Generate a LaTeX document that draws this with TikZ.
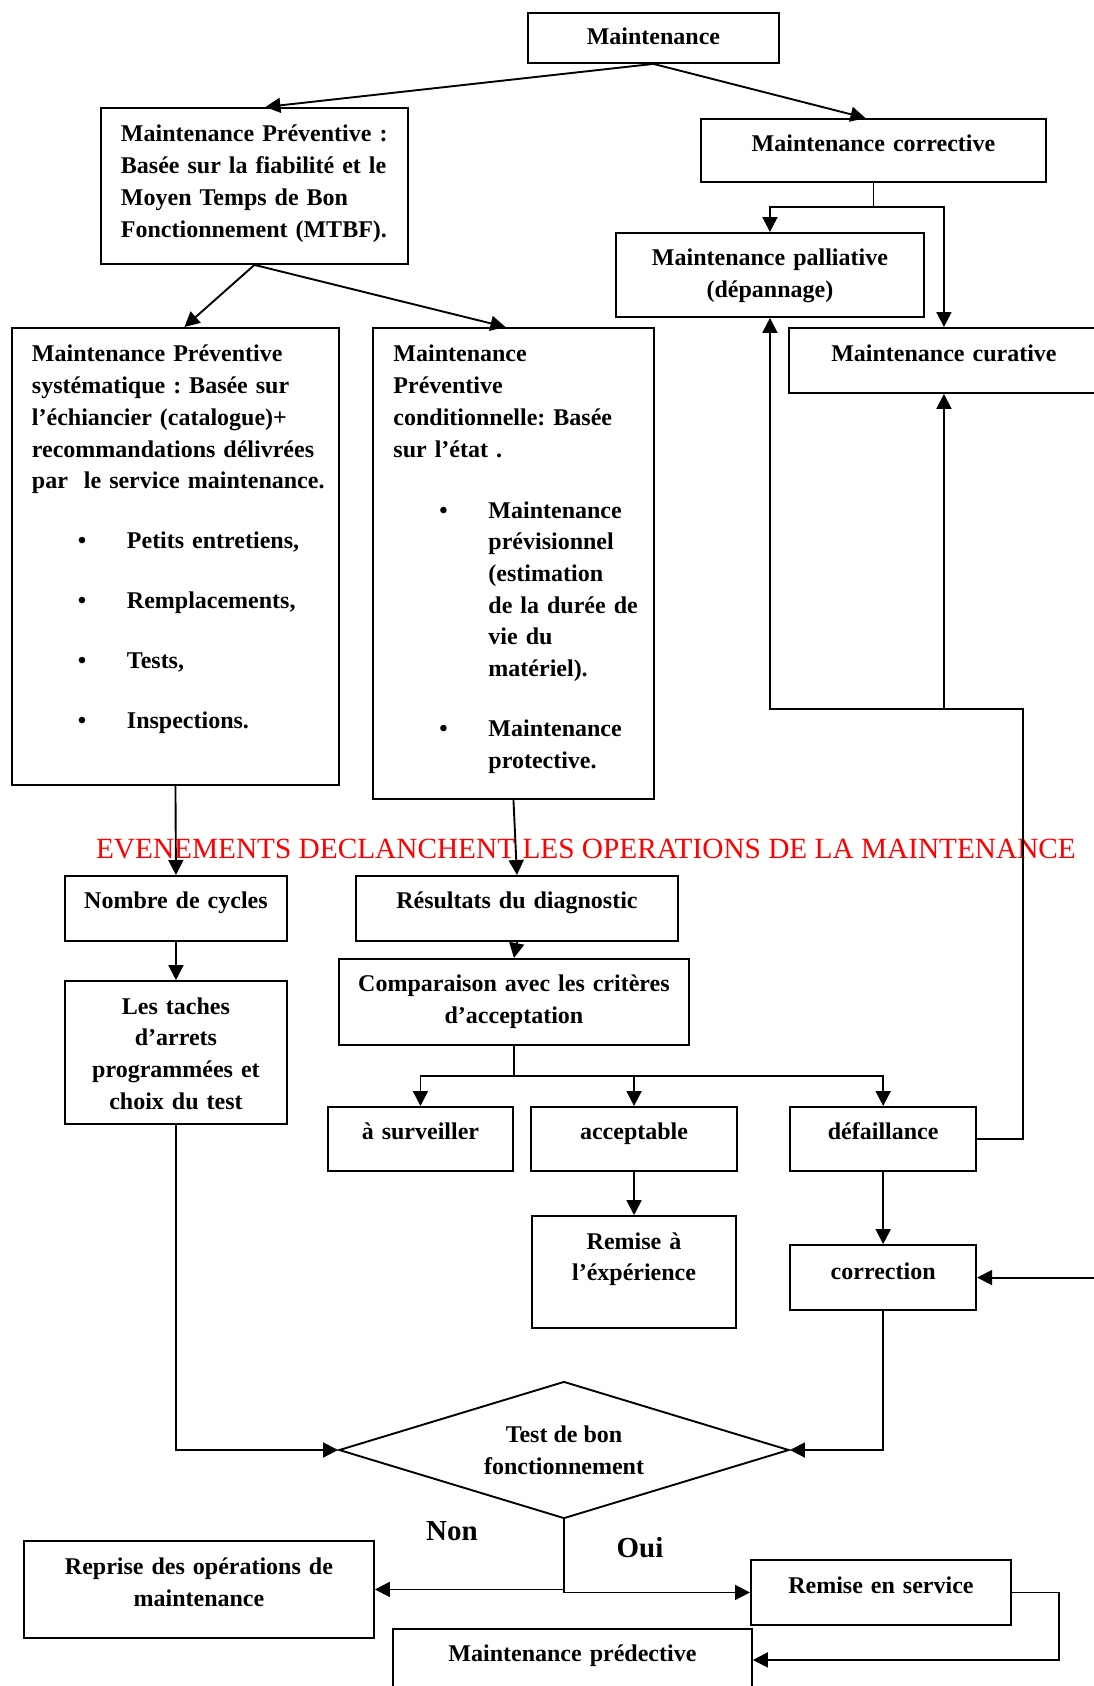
\documentclass[tikz,border=0pt]{standalone}
\usepackage{fontspec}
\setmainfont{Liberation Serif}
\usetikzlibrary{arrows.meta,positioning,shapes.geometric}
\frenchspacing
\hyphenpenalty=10000
\newcommand{\puce}{\hspace*{46pt}\makebox[49pt][l]{\textbullet}}
\newcommand{\suite}{\hspace*{95pt}}
\begin{document}
\begin{tikzpicture}[
  x=1pt, y=-1pt,
  font=\fontsize{24}{31.7}\selectfont\bfseries,
  bx/.style={draw, line width=1.9pt, inner xsep=0pt, inner ysep=0pt,
             align=center, anchor=north west},
  bxl/.style={bx, align=left, inner xsep=20pt},
  link/.style={line width=1.9pt},
  >={Triangle[length=15pt,width=15pt]},
]
\useasboundingbox (0,0) rectangle (1094,1686);
% niveau haut
\node[bx, text width=251pt, text height=32pt, text depth=18pt] (maint) at (527,12) {Maintenance};
\node[bxl, text width=267pt, text height=34pt, text depth=122pt] (prev) at (100,107)
  {Maintenance Préventive :\\ Basée sur la fiabilité et le\\ Moyen Temps de Bon\\ Fonctionnement (MTBF).};
\node[bx, text width=345pt, text height=33pt, text depth=30pt] (corr) at (700,118) {Maintenance corrective};
\node[bx, text width=308pt, text height=33pt, text depth=51pt] (pall) at (615,232)
  {Maintenance palliative\\ (dépannage)};
\node[bx, text width=310pt, text height=34pt, text depth=31pt] (cur) at (788,327) {Maintenance curative};
% preventive
\node[bxl, text width=287pt, text height=34pt, text depth=423pt] (sys) at (11,327)
  {Maintenance Préventive\\ systématique : Basée sur\\ l’échiancier (catalogue)+\\ recommandations délivrées\\
   \mbox{par~~le service maintenance.}\\[28.3pt]
   \puce Petits entretiens,\\[28.3pt] \puce Remplacements,\\[28.3pt] \puce Tests,\\[28.3pt] \puce Inspections.};
\node[bxl, inner xsep=20.5pt, text width=240pt, text height=34pt, text depth=437pt] (cond) at (372,327)
  {Maintenance\\ Préventive\\ conditionnelle: Basée\\ sur l’état .\\[29.3pt]
   \puce Maintenance\\ \suite prévisionnel\\ \suite (estimation\\ \suite \mbox{de la durée de}\\ \suite vie du\\ \suite matériel).\\[28.3pt]
   \puce Maintenance\\ \suite protective.};
% evenements
\node[text=red, font=\fontsize{29.3}{35}\selectfont] (evt) at (586,849.5)
  {EVENEMENTS DECLANCHENT LES OPERATIONS DE LA MAINTENANCE};
\node[bx, text width=222pt, text height=33pt, text depth=32pt] (nomb) at (64,875) {Nombre de cycles};
\node[bx, below=38.2pt of nomb, text width=222pt, text height=33pt, text depth=110pt] (tach)
  {Les taches\\ d’arrets\\ programmées et\\ choix du test};
\node[bx, text width=322pt, text height=33pt, text depth=32pt] (res) at (355,875) {Résultats du diagnostic};
\node[bx, text width=350pt, text height=33pt, text depth=53pt] (comp) at (338,958)
  {Comparaison avec les critères\\ d’acceptation};
\node[bx, text width=185pt, text height=33pt, text depth=31pt] (surv) at (327,1106) {à surveiller};
\node[bx, right=16.2pt of surv, text width=206pt, text height=33pt, text depth=31pt] (acc) {acceptable};
\node[bx, right=51.2pt of acc, text width=186pt, text height=33pt, text depth=31pt] (defa) {défaillance};
\node[bx, below=43.2pt of acc, text width=204pt, text height=33pt, text depth=79pt] (remx)
  {Remise à\\ l’éxpérience};
\node[bx, below=72.2pt of defa, text width=186pt, text height=34pt, text depth=31pt] (correc) {correction};
% test
\node[draw, diamond, aspect=3.28, line width=1.9pt, inner sep=0pt, minimum width=450pt,
      minimum height=137pt, align=center] (test) at (564,1450) {Test de bon\\ fonctionnement};
\node[font=\fontsize{29}{35}\selectfont\bfseries] (non) at (452,1531) {Non};
\node[font=\fontsize{29}{35}\selectfont\bfseries] (oui) at (640,1548) {Oui};
\node[bx, text width=350pt, text height=34pt, text depth=63pt] (rep) at (23,1540)
  {Reprise des opérations de\\ maintenance};
\node[bx, text width=260pt, text height=34pt, text depth=31pt] (serv) at (750,1559) {Remise en service};
\node[bx, text width=359pt, text height=33pt, text depth=29pt] (pred) at (392,1628) {Maintenance prédective};
% liens
\draw[link, ->] (maint.south) -- ([xshift=11pt]prev.north);
\draw[link, ->] (maint.south) -- ([xshift=-8pt]corr.north);
\draw[link, ->] (corr.south) -- ++(0,24) coordinate (cj) -| (pall.north);
\draw[link, ->] (cj) -| (cur.north);
\draw[link, ->] (prev.south) -- ([xshift=9pt]sys.north);
\draw[link, ->] (prev.south) -- ([xshift=-8pt]cond.north);
\draw[link, ->] (sys.south) -- (nomb.north);
\draw[link, ->] (cond.south) -- (res.north);
\draw[link, ->] (nomb.south) -- (tach.north);
\draw[link, ->] (res.south) -- (comp.north);
\draw[link] (comp.south) -- ++(0,30) coordinate (cb);
\draw[link, ->] (cb) -| (surv.north);
\draw[link, ->] (cb) -| (acc.north);
\draw[link, ->] (cb) -| (defa.north);
\draw[link, ->] (acc.south) -- (remx.north);
\draw[link, ->] (defa.south) -- (correc.north);
\coordinate (rt) at (1023,709);
\draw[link, ->] (defa.east) -| (rt) -| (pall.south);
\draw[link, ->] (cur.south |- rt) -- (cur.south);
\path (correc.east) ++(125,0) coordinate (rin);
\draw[link, ->] (rin) -- (correc.east);
\draw[link, ->] (tach.south) |- (test.west);
\draw[link, ->] (correc.south) |- (test.east);
\draw[link, ->] (test.south) |- (rep.east);
\draw[link, ->] (test.south) |- (serv.west);
\draw[link, ->] (serv.east) -- ++(47,0) |- (pred.east);
\end{tikzpicture}
\end{document}
